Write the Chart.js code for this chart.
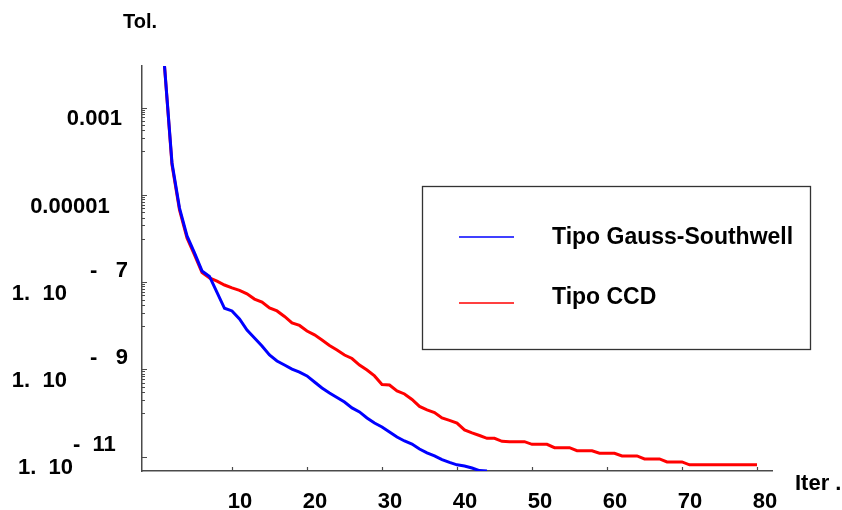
<!DOCTYPE html>
<html>
<head>
<meta charset="utf-8">
<script src="https://cdn.jsdelivr.net/npm/chart.js@4.4.1/dist/chart.umd.min.js"></script>
<style>
  html, body { margin: 0; padding: 0; background: #fff; }
  #caja { width: 842px; height: 510px; }
</style>
</head>
<body>
<div id="caja"><canvas id="grafico" width="842" height="510"></canvas></div>
<script>
'use strict';

// iteraciones (eje x)
var iteraciones = [
  1, 2, 3, 4, 5, 6, 7, 8, 9, 10,
  11, 12, 13, 14, 15, 16, 17, 18, 19, 20,
  21, 22, 23, 24, 25, 26, 27, 28, 29, 30,
  31, 32, 33, 34, 35, 36, 37, 38, 39, 40,
  41, 42, 43, 44, 45, 46, 47, 48, 49, 50,
  51, 52, 53, 54, 55, 56, 57, 58, 59, 60,
  61, 62, 63, 64, 65, 66, 67, 68, 69, 70,
  71, 72, 73, 74, 75, 76, 77, 78, 79, 80
];

// tolerancia por iteracion
var tolGaussSouthwell = [
  9.0e-3, 5.4e-5, 5.0e-6, 1.15e-6, 4.67e-7, 1.81e-7, 1.35e-7, 5.8e-8, 2.52e-8, 2.19e-8,
  1.43e-8, 8.0e-9, 5.26e-9, 3.45e-9, 2.14e-9, 1.56e-9, 1.26e-9, 1.02e-9, 8.7e-10, 7.1e-10,
  5.15e-10, 3.76e-10, 2.88e-10, 2.28e-10, 1.79e-10, 1.31e-10, 1.06e-10, 7.7e-11, 5.9e-11, 4.8e-11,
  3.68e-11, 2.83e-11, 2.29e-11, 1.95e-11, 1.50e-11, 1.22e-11, 1.04e-11, 8.6e-12, 7.4e-12, 6.5e-12,
  6.1e-12, 5.5e-12, 4.8e-12, 4.7e-12
];

var tolCCD = [
  9.0e-3, 4.86e-5, 4.5e-6, 1.03e-6, 4.2e-7, 1.67e-7, 1.25e-7, 1.06e-7, 8.6e-8, 7.4e-8,
  6.5e-8, 5.4e-8, 4.1e-8, 3.5e-8, 2.56e-8, 2.19e-8, 1.64e-8, 1.16e-8, 1.02e-8, 7.6e-9,
  6.2e-9, 4.73e-9, 3.54e-9, 2.79e-9, 2.14e-9, 1.78e-9, 1.26e-9, 9.7e-10, 7.1e-10, 4.52e-10,
  4.4e-10, 3.21e-10, 2.74e-10, 2.05e-10, 1.42e-10, 1.18e-10, 1.03e-10, 7.7e-11, 6.8e-11, 5.9e-11,
  4.1e-11, 3.5e-11, 3.06e-11, 2.64e-11, 2.64e-11, 2.25e-11, 2.21e-11, 2.21e-11, 2.21e-11, 1.92e-11,
  1.92e-11, 1.92e-11, 1.61e-11, 1.61e-11, 1.61e-11, 1.37e-11, 1.37e-11, 1.37e-11, 1.20e-11, 1.20e-11,
  1.20e-11, 1.04e-11, 1.04e-11, 1.04e-11, 8.9e-12, 8.9e-12, 8.9e-12, 7.6e-12, 7.6e-12, 7.6e-12,
  6.5e-12, 6.5e-12, 6.5e-12, 6.5e-12, 6.5e-12, 6.5e-12, 6.5e-12, 6.5e-12, 6.5e-12, 6.5e-12
];

var nombresSeries = ['Tipo Gauss-Southwell', 'Tipo CCD'];

var ticksX = [10, 20, 30, 40, 50, 60, 70, 80];
var ticksY = [1e-3, 1e-5, 1e-7, 1e-9, 1e-11];
var mantisaY = ['0.001', '0.00001', '1.  10', '1.  10', '1.  10'];
var exponenteY = ['', '', '-   7', '-   9', '-  11'];

var tituloY = 'Tol.';
var tituloX = 'Iter .';

// ---- estilo ----
var fuente = "'Liberation Sans', Arial, sans-serif";
var colorEje = '#4a4a4a';
var colores = ['#0000ff', '#ff0000'];
// espacios a la derecha para imitar la posicion de las etiquetas del eje y
var rellenoMantisa = [1, 3, 10, 10, 9];
var rellenoExponente = [0, 0, 0, 0, 2];

function espacios(n) {
  return '\u00a0'.repeat(n);
}

var marcasEjes = {
  id: 'marcasEjes',
  afterDraw: function (chart) {
    var ctx = chart.ctx;
    var ex = chart.scales.x;
    var ey = chart.scales.y;
    var area = chart.chartArea;
    ctx.save();
    ctx.strokeStyle = colorEje;
    ctx.lineWidth = 1.2;
    ctx.beginPath();
    ticksX.forEach(function (v) {
      var px = Math.round(ex.getPixelForValue(v)) + 0.5;
      ctx.moveTo(px, area.bottom);
      ctx.lineTo(px, area.bottom - 4);
    });
    ticksY.forEach(function (v, i) {
      var py = Math.round(ey.getPixelForValue(v)) + 0.5;
      ctx.moveTo(area.left, py);
      ctx.lineTo(area.left + 5, py);
      if (i === ticksY.length - 1) return;
      for (var m = 1; m <= 9; m++) {
        var q = Math.round(ey.getPixelForValue(m * v / 10)) + 0.5;
        ctx.moveTo(area.left, q);
        ctx.lineTo(area.left + 3, q);
      }
    });
    ctx.stroke();

    // titulos de los ejes
    ctx.fillStyle = '#000';
    ctx.font = 'bold 20px ' + fuente;
    ctx.textAlign = 'center';
    ctx.textBaseline = 'middle';
    ctx.fillText(tituloY, area.left - 2, area.top - 44);
    ctx.font = 'bold 22px ' + fuente;
    ctx.textAlign = 'left';
    ctx.fillText(tituloX, area.right + 23, area.bottom + 13);

    // leyenda dentro del grafico
    var lx = area.left + 280;
    var ly = area.top + 120;
    ctx.strokeStyle = '#333';
    ctx.lineWidth = 1.3;
    ctx.strokeRect(lx + 0.5, ly + 0.5, 388, 163);
    ctx.font = 'bold 23px ' + fuente;
    var filasLinea = [51, 117];
    var filasTexto = [52, 112];
    chart.data.datasets.forEach(function (ds, i) {
      ctx.strokeStyle = ds.borderColor;
      ctx.lineWidth = 1.5;
      ctx.beginPath();
      ctx.moveTo(lx + 37, ly + filasLinea[i]);
      ctx.lineTo(lx + 92, ly + filasLinea[i]);
      ctx.stroke();
      ctx.fillStyle = '#000';
      ctx.fillText(ds.label, lx + 130, ly + filasTexto[i]);
    });
    ctx.restore();
  }
};

var ctx = document.getElementById('grafico');

var chart = new Chart(ctx, {
  type: 'line',
  data: {
    labels: iteraciones,
    datasets: [
      {
        label: nombresSeries[0],
        data: tolGaussSouthwell,
        borderColor: colores[0],
        borderWidth: 3,
        pointRadius: 0,
        tension: 0,
        fill: false
      },
      {
        label: nombresSeries[1],
        data: tolCCD,
        borderColor: colores[1],
        borderWidth: 3,
        pointRadius: 0,
        tension: 0,
        fill: false
      }
    ]
  },
  options: {
    responsive: false,
    animation: false,
    layout: {
      padding: { left: 0, top: 66, right: 70, bottom: 0 }
    },
    plugins: {
      legend: { display: false },
      title: { display: false },
      tooltip: { enabled: false }
    },
    scales: {
      x: {
        type: 'linear',
        min: -2,
        max: 82,
        afterBuildTicks: function (scale) {
          scale.ticks = ticksX.map(function (v) { return { value: v }; });
        },
        afterFit: function (scale) {
          scale.height = 39;
        },
        grid: { display: true, drawOnChartArea: false, drawTicks: false },
        border: { display: true, color: colorEje, width: 1.5 },
        ticks: {
          color: '#000',
          padding: 19,
          labelOffset: 8,
          maxRotation: 0,
          font: { family: fuente, size: 22, weight: 'bold', lineHeight: 1.05 }
        }
      },
      y: {
        type: 'logarithmic',
        min: 4.7e-12,
        max: 9.0e-3,
        afterBuildTicks: function (scale) {
          scale.ticks = ticksY.map(function (v) { return { value: v }; });
        },
        afterFit: function (scale) {
          scale.width = 142;
        },
        grid: { display: true, drawOnChartArea: false, drawTicks: false },
        border: { display: true, color: colorEje, width: 1.5 },
        ticks: {
          color: '#000',
          padding: 14,
          font: { family: fuente, size: 22, weight: 'bold', lineHeight: 1.05 },
          callback: function (value, index) {
            return [
              exponenteY[index] + espacios(rellenoExponente[index]),
              mantisaY[index] + espacios(rellenoMantisa[index])
            ];
          }
        }
      }
    }
  },
  plugins: [marcasEjes]
});
</script>
</body>
</html>
